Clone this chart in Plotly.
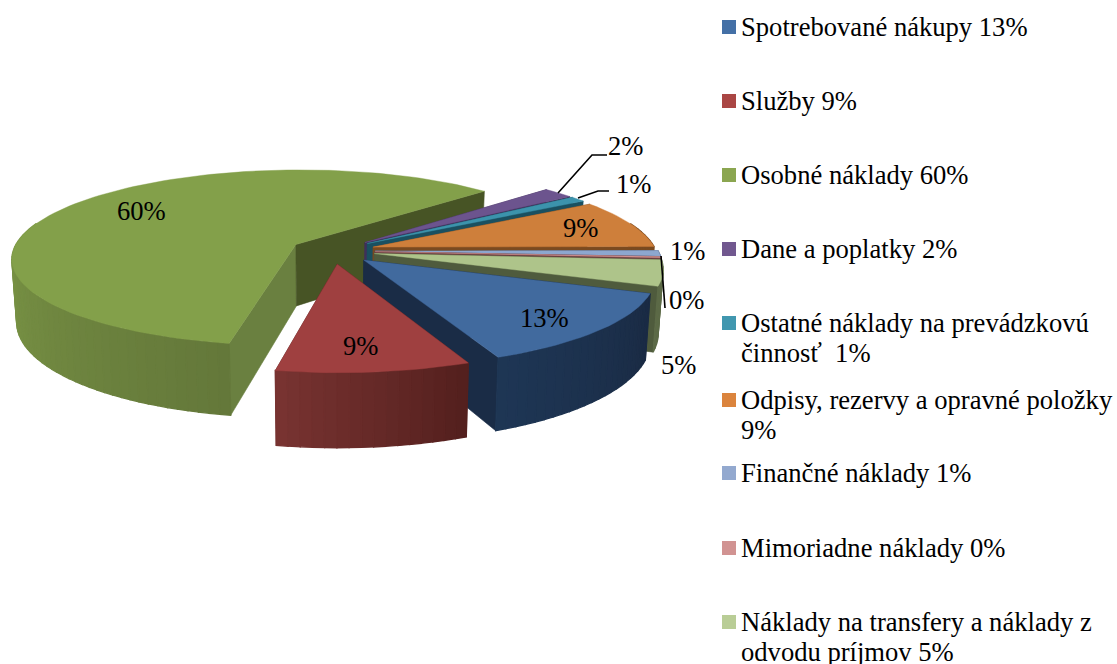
import math
import plotly.graph_objects as go

# ---- data ----
categories = ["Spotrebované nákupy", "Služby", "Osobné náklady", "Dane a poplatky",
              "Ostatné náklady na prevádzkovú<br>činnosť ", "Odpisy, rezervy a opravné položky<br>",
              "Finančné náklady", "Mimoriadne náklady",
              "Náklady na transfery a náklady z<br>odvodu príjmov"]
values = [13, 9.25, 60.05, 2, 1, 8.9, 1, 0.2, 4.6]

# ---- styles ----
top_colors = ["#416A9E", "#9F4040", "#83A04A", "#6C548E", "#3C93AC", "#CE7F3B", "#8DA7CF", "#D09090", "#AEC48A"]
key_colors = ["#4470A6", "#AA4644", "#8BA650", "#71588F", "#4197AF", "#DB843D", "#93A9CF", "#D19392", "#B9CD96"]
cut_start = ["#1A2C46", "#5A2220", "#6A8040", "#40305A", "#1A5060", "#7A4A20", "#4A5A78", "#6A4040", "#4F5B3D"]
cut_end = ["#1A2C46", "#5A2220", "#475425", "#40305A", "#1A5060", "#7A4A20", "#4A5A78", "#6A4040", "#4F5B3D"]
arc_start = ["#1A2B44", "#54201E", "#64783A", "#40305A", "#1A5060", "#7A4A20", "#5A6A88", "#6A4040", "#5C6A47"]
arc_end = ["#1E3655", "#7A3432", "#7F9B48", "#40305A", "#1A5060", "#7A4A20", "#5A6A88", "#6A4040", "#5C6A47"]
draw_order = [2, 3, 4, 5, 6, 7, 8, 0, 1]
START_DEG = 20.5      # clockwise from east
EXPLODE = 0.15
CX, CY = 332.7, 250.8
A, B, K, H, SHRINK = 283.0, 87.7, 0.151, 62.0, 0.015

FONT = "Liberation Serif"
FS = 26.6
LINE_GAP = 30
label_xy = [(544, 318), (360, 346), (141, 211), (625, 146), (633, 184), (580, 228), (687, 251), (686, 300), (678, 365)]
key_y = [27, 101, 175, 249, 323, 400, 473, 548, 622]
leaders = [[(558, 193), (592, 155), (607, 155)], [(578, 198), (598, 191), (609, 191)], [(661, 256), (665, 308)]]


def proj(X, Y, z=0.0):
    w = 1 / (1 + K * Y)
    return (CX + A * X * w * (1 - SHRINK * z), CY + (-B * Y + H * z) * w)


def mix(c1, c2, t):
    a = [int(c1[i:i + 2], 16) for i in (1, 3, 5)]
    b = [int(c2[i:i + 2], 16) for i in (1, 3, 5)]
    return "rgb(%d,%d,%d)" % tuple(round(p + (q - p) * t) for p, q in zip(a, b))


fig = go.Figure()


def poly(points, color, lw=0.6):
    xs = [p[0] for p in points] + [points[0][0]]
    ys = [p[1] for p in points] + [points[0][1]]
    fig.add_trace(go.Scatter(x=xs, y=ys, mode="lines", fill="toself", fillcolor=color,
                             line=dict(color=color, width=lw), hoverinfo="skip", showlegend=False))


total = sum(values)
starts, a0 = [], START_DEG
for v in values:
    starts.append(a0)
    a0 += v / total * 360

for i in draw_order:
    t0 = starts[i]
    t1 = t0 + values[i] / total * 360
    mid = math.radians((t0 + t1) / 2)
    ax, ay = EXPLODE * math.cos(mid), -EXPLODE * math.sin(mid)

    def rim(deg):
        r = math.radians(deg)
        return ax + math.cos(r), ay - math.sin(r)

    n = max(2, int((t1 - t0) / 2) + 1)
    degs = [t0 + (t1 - t0) * j / (n - 1) for j in range(n)]
    # cut faces
    poly([proj(ax, ay), proj(*rim(t0)), proj(*rim(t0), 1), proj(ax, ay, 1)], cut_start[i])
    poly([proj(ax, ay), proj(*rim(t1)), proj(*rim(t1), 1), proj(ax, ay, 1)], cut_end[i])
    # outer wall: only the part turned to the viewer, back strips first
    vis = [d for d in degs if math.sin(math.radians(d)) > -0.25]
    span = (vis[-1] - vis[0]) if len(vis) > 1 else 1
    strips = [(d0, d1) for d0, d1 in zip(degs[:-1], degs[1:])
              if math.sin(math.radians(d0)) > -0.25 or math.sin(math.radians(d1)) > -0.25]
    strips.sort(key=lambda s: math.sin(math.radians((s[0] + s[1]) / 2)))
    for d0, d1 in strips:
        tt = min(1, max(0, (d0 - (vis[0] if vis else t0)) / span))
        poly([proj(*rim(d0)), proj(*rim(d1)), proj(*rim(d1), 1), proj(*rim(d0), 1)],
             mix(arc_start[i], arc_end[i], tt), lw=1.3)
    # top surface
    poly([proj(ax, ay)] + [proj(*rim(d)) for d in degs], top_colors[i], lw=0.4)

for pts in leaders:
    fig.add_trace(go.Scatter(x=[p[0] for p in pts], y=[p[1] for p in pts], mode="lines",
                             line=dict(color="black", width=1.6), hoverinfo="skip", showlegend=False))

annotations, shapes = [], []
for v, (x, y) in zip(values, label_xy):
    annotations.append(dict(x=x, y=y, xref="x", yref="y", text=f"{round(v)}%", showarrow=False,
                            font=dict(family=FONT, size=FS, color="black")))
for name, v, y in zip(categories, values, key_y):
    sep = "" if name.endswith("<br>") else " "
    for k, line in enumerate(f"{name}{sep}{round(v)}%".split("<br>")):
        annotations.append(dict(x=739, y=y + k * LINE_GAP, xref="x", yref="y", text=line, showarrow=False,
                                xanchor="left", yanchor="middle", align="left",
                                font=dict(family=FONT, size=FS, color="black")))
for yy, c in zip(key_y, key_colors):
    shapes.append(dict(type="rect", xref="x", yref="y", x0=722, x1=736, y0=yy - 7, y1=yy + 7,
                       fillcolor=c, line=dict(width=0)))

fig.update_layout(width=1117, height=664, margin=dict(l=0, r=0, t=0, b=0),
                  paper_bgcolor="white", plot_bgcolor="white", showlegend=False,
                  annotations=annotations, shapes=shapes,
                  xaxis=dict(range=[0, 1117], visible=False, fixedrange=True),
                  yaxis=dict(range=[664, 0], visible=False, fixedrange=True))
fig.write_html("out.html", post_script="document.body.style.margin='0';document.body.style.overflow='hidden';",
               config={"displayModeBar": False})
